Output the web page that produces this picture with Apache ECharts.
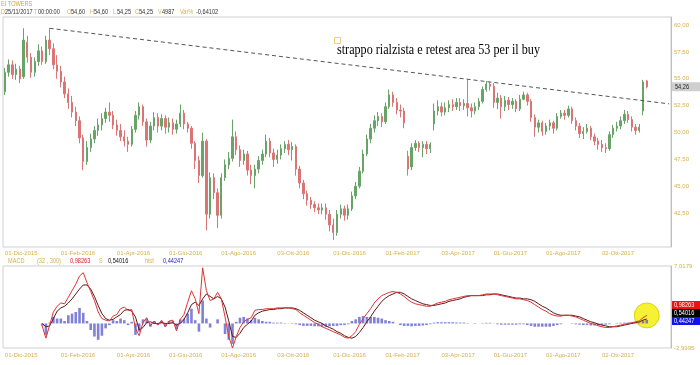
<!DOCTYPE html>
<html><head><meta charset="utf-8">
<script src="https://cdn.jsdelivr.net/npm/echarts/dist/echarts.min.js"></script>
<style>html,body{margin:0;padding:0;background:#fff}#c{width:700px;height:365px}</style>
</head><body><div id="c"></div>
<script>
// ---------- data ----------
const startDate = '2015-12-01';
const weekdaysPerCandle = 3;
const emptySlots = 6;
const labelDates = ['2015-12-01','2016-02-01','2016-04-01','2016-06-01','2016-08-01','2016-10-03','2016-12-01','2017-02-01','2017-04-03','2017-06-01','2017-08-01','2017-10-02'];
const labelTexts = ['01-Dic-2015','01-Feb-2016','01-Apr-2016','01-Giu-2016','01-Ago-2016','03-Ott-2016','01-Dic-2016','01-Feb-2017','03-Apr-2017','01-Giu-2017','01-Ago-2017','02-Ott-2017'];

const opens = [53.8,55.6,56.3,55.4,55.9,55.2,58.4,57.0,55.6,56.6,
57.6,56.6,58.6,57.8,56.3,55.7,54.7,53.6,52.8,51.9,
51.1,49.5,47.3,48.6,49.4,50.2,50.7,51.3,51.9,51.6,
50.7,50.2,49.6,49.2,48.9,50.3,51.6,52.4,51.0,49.3,
50.6,51.4,50.6,51.3,50.5,50.9,50.3,50.8,51.8,50.8,
50.4,49.0,47.4,46.0,49.2,42.4,45.8,44.4,42.3,45.8,
47.0,47.6,49.6,48.4,47.4,48.0,46.5,46.0,46.6,47.4,
48.0,49.2,48.1,47.5,47.9,48.5,48.9,48.4,48.7,46.6,
45.3,44.3,43.7,43.3,43.0,42.8,43.0,42.4,41.4,40.7,
42.4,42.9,42.3,42.9,44.1,45.0,46.4,48.0,49.4,50.4,
51.1,51.5,51.0,52.4,53.5,52.8,52.1,52.0,47.8,46.8,
48.6,49.0,48.6,48.9,48.5,50.8,52.0,52.4,51.9,52.3,
52.6,52.4,52.8,52.5,52.7,52.3,52.0,52.4,52.9,54.0,
54.5,54.3,52.8,53.2,52.4,53.0,52.6,52.9,52.2,53.1,
53.5,52.9,51.4,50.5,50.9,50.1,50.6,50.9,50.4,51.5,
51.8,51.6,52.2,51.1,50.6,49.9,50.1,50.4,49.6,49.2,
48.9,48.6,48.5,49.8,50.4,50.6,51.1,51.7,51.2,50.5,
50.2,52.0,54.8];
const closes = [55.6,56.3,55.4,55.9,55.0,58.6,57.0,55.6,56.6,57.6,
56.6,58.6,57.8,56.3,55.7,54.7,53.6,52.8,51.9,51.1,
49.5,47.3,48.6,49.4,50.2,50.7,51.3,51.9,51.6,50.7,
50.2,49.6,49.2,48.9,50.3,51.6,52.4,51.0,49.3,50.6,
51.4,50.6,51.3,50.5,50.9,50.3,50.8,51.8,50.8,50.4,
49.0,47.4,46.0,49.2,42.4,45.8,44.4,42.3,45.8,47.0,
47.6,49.6,48.4,47.4,48.0,46.5,46.0,46.6,47.4,48.0,
49.2,48.1,47.5,47.9,48.5,48.9,48.4,48.7,46.6,45.3,
44.3,43.7,43.3,43.0,42.8,43.0,42.4,41.4,40.7,42.4,
42.9,42.3,42.9,44.1,45.0,46.4,48.0,49.4,50.4,51.1,
51.5,51.0,52.4,53.5,52.8,52.1,52.0,50.9,46.6,48.6,
49.0,48.6,48.9,48.5,48.9,52.0,52.4,51.9,52.3,52.6,
52.4,52.8,52.5,52.7,52.3,52.0,52.4,52.9,54.0,54.5,
54.3,52.8,53.2,52.4,53.0,52.6,52.9,52.2,53.1,53.5,
52.9,51.4,50.5,50.9,50.1,50.6,50.9,50.4,51.5,51.8,
51.6,52.2,51.1,50.6,49.9,50.1,50.4,49.6,49.2,48.9,
48.6,48.5,49.8,50.4,50.6,51.1,51.7,51.2,50.5,50.2,
50.5,54.7,54.25];
const lows = [53.5,55.2,55.0,54.9,54.6,55.0,56.5,55.1,55.2,56.2,
56.3,56.4,57.2,55.9,55.0,54.2,53.2,52.2,51.4,50.6,
49.0,46.5,47.0,48.2,49.0,49.7,50.2,50.9,51.0,50.3,
49.7,49.2,48.7,48.2,48.7,50.0,51.2,50.6,48.7,49.0,
50.2,50.0,50.2,49.9,50.0,49.8,49.9,50.5,50.3,50.0,
48.5,46.6,45.3,45.8,40.9,42.0,43.8,41.1,42.0,45.5,
46.6,47.3,47.9,46.8,47.0,46.0,45.2,44.8,46.2,47.0,
47.7,47.7,46.8,47.1,47.5,48.1,47.9,47.4,46.0,44.8,
43.8,43.2,42.9,42.6,42.4,42.4,41.9,40.8,40.0,40.4,
42.0,41.8,41.9,42.7,43.8,44.8,46.2,47.8,49.0,50.0,
50.6,50.5,50.8,52.2,52.4,51.7,51.4,50.4,46.0,46.5,
48.3,48.2,47.7,48.0,48.1,50.2,51.6,51.5,51.6,51.9,
52.0,52.1,52.0,52.1,51.5,51.4,51.7,52.1,52.7,53.8,
53.9,52.3,52.2,51.3,52.0,52.1,52.2,51.9,52.0,53.0,
52.5,51.0,49.6,50.0,49.7,49.8,50.2,49.9,50.2,51.3,
51.2,51.4,50.8,50.2,49.5,49.4,49.9,49.3,48.8,48.4,
48.2,48.1,48.3,49.5,50.1,50.3,50.8,50.9,50.1,49.8,
50.0,51.6,54.1];
const highs = [56.0,56.8,56.7,56.4,56.2,59.7,59.0,57.4,57.0,58.2,
58.0,59.0,59.7,58.3,57.2,56.2,55.2,54.1,53.4,52.4,
51.5,49.8,49.2,49.9,50.6,51.3,51.8,52.3,52.8,52.0,
51.2,50.8,50.2,49.6,50.6,52.0,52.8,52.6,51.3,51.0,
51.9,51.8,51.7,51.6,51.4,51.3,51.2,52.6,52.1,51.0,
50.6,49.2,47.8,50.0,49.4,46.3,46.2,44.8,46.2,47.5,
48.2,51.2,50.1,48.8,48.4,48.3,47.0,47.0,47.8,48.4,
49.8,49.5,48.5,48.4,48.9,49.2,49.3,49.1,48.9,46.9,
45.6,44.6,44.0,43.6,43.4,43.4,43.4,42.8,42.0,42.8,
43.3,43.2,43.3,44.5,45.4,46.8,48.4,49.8,50.8,51.6,
51.9,51.8,52.8,54.0,53.8,53.2,52.6,52.3,48.3,49.0,
49.3,49.2,49.2,49.2,49.1,52.7,53.0,52.8,52.8,53.0,
53.1,53.2,53.2,53.1,54.9,52.7,52.8,53.2,54.3,54.8,
54.7,54.6,53.7,53.5,53.4,53.3,53.2,53.1,53.5,53.8,
53.7,53.1,51.7,51.2,51.1,50.9,51.2,51.1,51.8,52.1,
52.1,52.5,52.4,51.4,50.9,50.5,50.8,50.6,49.9,49.5,
49.3,49.0,50.1,50.7,51.0,51.5,52.1,52.0,51.5,50.8,
50.8,54.9,54.9];

const macdStart = 10;
const macdLine = [-0.3,-1.8,-0.2,1.4,2.1,2.5,2.4,3.2,4.0,4.8,
5.8,6.2,5.0,3.9,2.8,1.4,0.6,0.4,0.3,0.9,
1.1,1.8,2.0,1.6,1.7,-0.6,-1.5,0.1,0.7,-0.3,
0.3,-0.2,0.4,-0.4,0.3,0.4,-0.9,0.5,1.1,2.6,
4.0,3.0,1.2,6.8,4.0,2.8,3.0,3.8,3.0,0.8,
-1.6,-3.0,-1.6,-0.5,0.2,0.5,0.7,1.6,1.7,1.7,
1.8,1.8,1.8,1.9,1.9,1.9,1.9,1.8,1.7,1.3,
1.0,0.7,0.4,0.1,-0.1,-0.4,-0.6,-0.8,-1.0,-1.2,
-1.4,-1.7,-1.8,-1.5,-1.0,-0.1,0.6,1.2,1.8,2.5,
3.0,3.4,3.6,3.8,3.9,3.8,3.6,3.3,2.9,2.6,
2.4,2.3,2.2,2.1,2.1,2.3,2.5,2.6,2.7,2.9,
3.0,3.1,3.2,3.3,3.4,3.4,3.4,3.4,3.5,3.6,
3.6,3.6,3.5,3.4,3.3,3.2,3.1,3.0,3.0,2.9,
2.8,2.6,2.3,2.0,1.7,1.5,1.2,1.0,0.9,0.9,
1.0,1.0,0.9,0.8,0.6,0.4,0.2,0.0,-0.1,-0.3,
-0.4,-0.5,-0.5,-0.4,-0.3,-0.2,-0.1,0.0,0.1,0.2,
0.3,0.7,0.98];
const signalLine = [0.0,-0.4,-0.3,0.6,1.5,1.9,2.1,2.5,3.0,3.6,
4.2,4.7,4.7,4.2,3.3,2.2,1.2,0.6,0.4,0.5,
0.8,1.1,1.6,1.7,1.5,0.8,-0.8,-0.5,0.1,0.2,
0.0,0.0,0.1,0.0,0.0,0.1,-0.2,0.0,0.5,1.3,
2.3,2.6,2.2,3.0,3.6,3.3,3.0,3.3,3.0,2.0,
0.3,-1.6,-1.7,-1.2,-0.5,-0.1,0.3,1.0,1.3,1.5,
1.6,1.7,1.7,1.8,1.8,1.9,1.9,1.9,1.8,1.6,
1.3,1.0,0.7,0.4,0.2,0.0,-0.3,-0.5,-0.7,-1.0,
-1.2,-1.5,-1.7,-1.8,-1.6,-1.1,-0.5,0.2,0.8,1.5,
2.1,2.7,3.1,3.4,3.6,3.8,3.8,3.6,3.3,3.0,
2.8,2.6,2.4,2.3,2.2,2.2,2.3,2.4,2.5,2.7,
2.8,2.9,3.0,3.2,3.3,3.4,3.4,3.4,3.4,3.5,
3.5,3.6,3.6,3.5,3.4,3.3,3.2,3.1,3.1,3.0,
3.0,2.9,2.7,2.4,2.1,1.9,1.6,1.3,1.1,1.0,
1.0,1.0,1.0,0.9,0.8,0.6,0.4,0.2,0.1,-0.1,
-0.2,-0.3,-0.4,-0.4,-0.4,-0.3,-0.2,-0.1,0.0,0.1,
0.2,0.4,0.54];
const histValues = [-0.3,-1.4,0.1,0.8,0.6,0.6,0.3,1.0,1.2,1.4,
1.9,1.3,0.3,-0.8,-1.6,-2.0,-1.5,-0.6,-0.2,0.4,
0.3,0.6,0.4,-0.2,0.2,-1.4,-1.0,0.5,0.6,-0.4,
0.3,-0.2,0.3,-0.4,0.3,0.3,-0.7,0.5,0.6,1.2,
1.8,0.4,-1.0,2.8,0.6,-0.5,0.0,0.5,0.0,-1.3,
-2.0,-2.5,0.2,0.7,0.8,0.6,0.4,0.7,0.5,0.3,
0.2,0.2,0.1,0.1,0.1,0.05,0.02,-0.05,-0.1,-0.2,
-0.3,-0.3,-0.3,-0.35,-0.35,-0.4,-0.4,-0.35,-0.3,-0.3,
-0.2,-0.2,-0.1,0.3,0.5,0.8,0.9,0.8,0.8,0.8,
0.7,0.6,0.4,0.3,0.2,0.0,-0.2,-0.3,-0.3,-0.35,
-0.3,-0.3,-0.25,-0.2,-0.1,0.1,0.15,0.15,0.15,0.15,
0.15,0.12,0.1,0.1,0.05,0.0,-0.05,0.0,0.05,0.08,
0.08,0.02,-0.1,-0.15,-0.15,-0.15,-0.15,-0.15,-0.1,-0.1,
-0.2,-0.3,-0.4,-0.4,-0.4,-0.4,-0.4,-0.3,-0.2,-0.1,
0.0,0.0,-0.05,-0.1,-0.15,-0.2,-0.2,-0.25,-0.25,-0.25,
-0.2,-0.15,-0.1,0.0,0.05,0.08,0.1,0.1,0.1,0.12,
0.12,0.3,0.44];

const trendIdx = [12, 178];
const trendVals = [59.70, 52.67];
const priceTicks = [42.5, 45, 47.5, 50, 52.5, 55, 57.5, 60];
const priceRange = [39.35, 60.75];
const macdRange = [-2.9995, 7.0179];
const lastPrice = 54.26;
const lastPriceTag = '54,26';
const macdTags = ['0,98263', '0,54016', '0,44247'];
const title = 'EI TOWERS';
const infoKeys = ['D','T','O','H','L','C','V','Var%'];
const infoVals = ['25/11/2017','00:00:00','54,60','54,60','54,25','54,25','4987','-0,64102'];
const macdHeader = ['MACD','(32 , 300)','0,98263','S','0,54016','hist','0,44247'];
const note = 'strappo rialzista e retest area 53 per il buy';

// ---------- build ----------
const cats = [];
{
  const p = startDate.split('-').map(Number);
  let d = new Date(Date.UTC(p[0], p[1] - 1, p[2])); let n = 0;
  const total = closes.length + emptySlots;
  while (cats.length < total) {
    const wd = d.getUTCDay();
    if (wd !== 0 && wd !== 6) { if (n % weekdaysPerCandle === 0) cats.push(d.toISOString().slice(0, 10)); n++; }
    d = new Date(d.getTime() + 86400000);
  }
}
const labelMap = new Map();
labelDates.forEach((ld, k) => { const idx = cats.findIndex(c => c >= ld); if (idx >= 0) labelMap.set(idx, labelTexts[k]); });

const candleData = closes.map((c, i) => [opens[i], c, lows[i], highs[i]]);
const pair = arr => arr.map((v, k) => [k + macdStart, v]);
const lastI = closes.length - 1;

const GOLD = '#d6b04c';
const fmt2 = v => v.toFixed(2).replace('.', ',');

const xAxisCommon = {
  type: 'category', data: cats, boundaryGap: true,
  axisLine: { show: false }, axisTick: { show: false }, splitLine: { show: false },
  axisLabel: {
    interval: (idx) => labelMap.has(idx),
    formatter: (v, idx) => labelMap.get(idx) || '',
    color: GOLD, fontSize: 6, fontFamily: 'Liberation Sans', align: 'left', margin: 4
  }
};

const chart = echarts.init(document.getElementById('c'), null, { renderer: 'canvas' });
const option = {
  animation: false,
  backgroundColor: '#ffffff',
  grid: [
    { left: 3, right: 29, top: 17, height: 230, show: true, borderColor: '#cfcfcf', borderWidth: 1, outerBoundsMode: 'none' },
    { left: 3, right: 29, top: 266, height: 82, show: true, borderColor: '#cfcfcf', borderWidth: 1, outerBoundsMode: 'none' }
  ],
  xAxis: [
    Object.assign({ gridIndex: 0 }, xAxisCommon, { axisLabel: Object.assign({}, xAxisCommon.axisLabel, { margin: 3 }) }),
    Object.assign({ gridIndex: 1 }, xAxisCommon)
  ],
  yAxis: [
    { gridIndex: 0, type: 'value', position: 'right', min: priceRange[0], max: priceRange[1],
      splitLine: { show: false }, axisTick: { show: false },
      axisLine: { show: true, lineStyle: { color: '#bdbdbd' } },
      axisLabel: { customValues: priceTicks, formatter: v => fmt2(v), color: GOLD, fontSize: 6, fontFamily: 'Liberation Sans', margin: 3 } },
    { gridIndex: 1, type: 'value', position: 'right', min: macdRange[0], max: macdRange[1],
      splitLine: { show: false }, axisTick: { show: false },
      axisLine: { show: true, lineStyle: { color: '#bdbdbd' } },
      axisLabel: { customValues: macdRange, formatter: v => v.toFixed(4).replace('.', ','), color: GOLD, fontSize: 6, fontFamily: 'Liberation Sans', margin: 3 } }
  ],
  series: [
    { type: 'candlestick', xAxisIndex: 0, yAxisIndex: 0, data: candleData, barWidth: '50%',
      itemStyle: { color: '#68a468', color0: '#db7474', borderColor: '#68a468', borderColor0: '#db7474', borderWidth: 1 } },
    { type: 'line', xAxisIndex: 0, yAxisIndex: 0, data: [[trendIdx[0], trendVals[0]], [trendIdx[1], trendVals[1]]],
      symbol: 'none', lineStyle: { color: '#555', width: 1, type: [4, 3] }, z: 4 },
    { type: 'scatter', xAxisIndex: 1, yAxisIndex: 1, data: [[lastI, macdLine[macdLine.length - 1]]],
      symbolSize: 25, itemStyle: { color: '#f3ee00', borderColor: '#d8c800', borderWidth: 1 }, z: 1 },
    { type: 'bar', xAxisIndex: 1, yAxisIndex: 1, data: pair(histValues), barWidth: '70%',
      itemStyle: { color: 'rgba(80,80,200,0.72)' }, z: 2 },
    { type: 'line', xAxisIndex: 1, yAxisIndex: 1, data: pair(signalLine), symbol: 'none',
      lineStyle: { color: '#5a1818', width: 1 }, z: 3 },
    { type: 'line', xAxisIndex: 1, yAxisIndex: 1, data: pair(macdLine), symbol: 'none',
      lineStyle: { color: '#e03434', width: 1 }, z: 3 }
  ]
};
chart.setOption(option);

// ---------- texts ----------
const SX = 0.8;
const smallFont = '7px "Liberation Sans"';
const g = [];
g.push({ type: 'text', x: 1, y: 1, scaleX: SX, style: { text: title, font: smallFont, fill: '#e0a028' } });
const keyX = [1, 34, 67, 90, 113, 135, 158, 180];
const valX = [5, 38, 71, 94, 117, 139, 162, 196];
infoKeys.forEach((k, i) => {
  g.push({ type: 'text', x: keyX[i], y: 9, scaleX: SX, style: { text: k, font: smallFont, fill: GOLD } });
  g.push({ type: 'text', x: valX[i], y: 9, scaleX: SX, style: { text: infoVals[i], font: smallFont, fill: '#333' } });
});
const mhX = [8, 37, 70, 99, 108, 145, 163];
const mhC = [GOLD, GOLD, '#d42020', GOLD, '#111', GOLD, '#2020c0'];
macdHeader.forEach((t, i) => {
  g.push({ type: 'text', x: mhX[i], y: 257.5, scaleX: SX, style: { text: t, font: smallFont, fill: mhC[i] } });
});
// price tag
const py = chart.convertToPixel({ yAxisIndex: 0 }, lastPrice);
g.push({ type: 'rect', shape: { x: 671, y: py - 4.5, width: 29, height: 9 }, style: { fill: '#cfcfcf' } });
g.push({ type: 'text', x: 675, y: py - 3.5, scaleX: SX, style: { text: lastPriceTag, font: smallFont, fill: '#222' } });
// macd tags
const tagC = ['#ee1111', '#000000', '#1111ee'];
macdTags.forEach((t, i) => {
  const ty = 301 + i * 8;
  g.push({ type: 'rect', shape: { x: 671, y: ty, width: 29, height: 8 }, style: { fill: tagC[i] } });
  g.push({ type: 'text', x: 674, y: ty + 0.5, scaleX: SX, style: { text: t, font: smallFont, fill: '#fff' } });
});
// annotation
const cv = document.createElement('canvas').getContext('2d');
const noteFont = '15px "Liberation Serif"';
cv.font = noteFont;
const nw = cv.measureText(note).width;
g.push({ type: 'rect', shape: { x: 334.5, y: 37.5, width: 6, height: 6 }, style: { fill: '#fff', stroke: '#e8d070', lineWidth: 1 } });
g.push({ type: 'text', x: 337, y: 50, scaleX: 203 / nw, style: { text: note, font: noteFont, fill: '#000', verticalAlign: 'middle' } });

chart.setOption({ graphic: g });
</script>
</body></html>
